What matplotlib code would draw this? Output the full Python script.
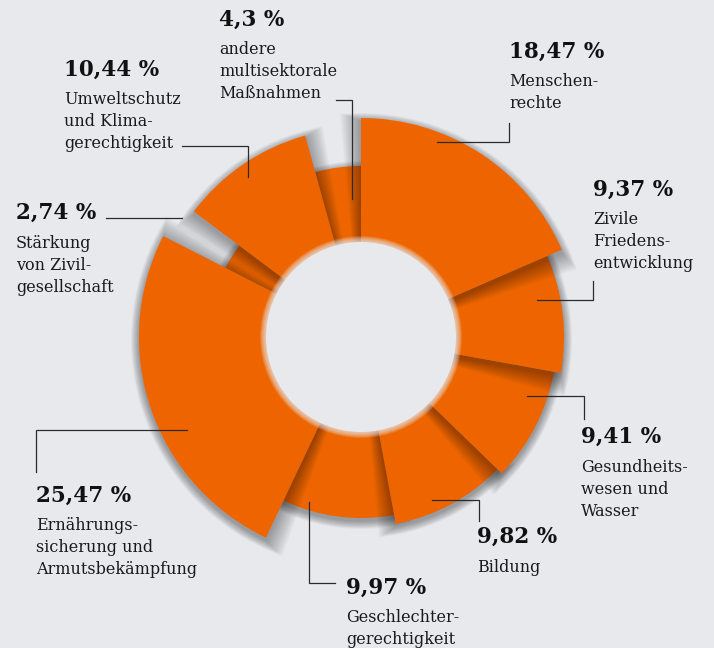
import matplotlib
matplotlib.use("Agg")
import matplotlib.pyplot as plt
from matplotlib.patches import Wedge, Circle

# data (clockwise from 12 o'clock)
shares = [18.47, 9.37, 9.41, 9.82, 9.97, 25.47, 2.74, 10.44, 4.3]
pct_labels = ["18,47 %", "9,37 %", "9,41 %", "9,82 %", "9,97 %",
              "25,47 %", "2,74 %", "10,44 %", "4,3 %"]
names = [
    ["Menschen-", "rechte"],
    ["Zivile", "Friedens-", "entwicklung"],
    ["Gesundheits-", "wesen und", "Wasser"],
    ["Bildung"],
    ["Geschlechter-", "gerechtigkeit"],
    ["Ernährungs-", "sicherung und", "Armutsbekämpfung"],
    ["Stärkung", "von Zivil-", "gesellschaft"],
    ["Umweltschutz", "und Klima-", "gerechtigkeit"],
    ["andere", "multisektorale", "Maßnahmen"],
]
# outer radius of each slice (pixels), purely decorative
radii = [219, 203, 196, 190, 181, 222, 152, 209, 171]

# label anchor (x, y of percent line) and leader line points
label_pos = [(509, 52), (593, 190), (581, 437), (477, 537), (346, 588),
             (36, 496), (16, 213), (64, 70), (219, 20)]
leaders = [
    [(437, 142), (509, 142), (509, 123)],
    [(537, 300), (593, 300), (593, 281)],
    [(527, 396), (584, 396), (584, 419)],
    [(432, 500), (479, 500), (479, 521)],
    [(309, 502), (309, 583), (335, 583)],
    [(187, 430), (36, 430), (36, 472)],
    [(106, 218), (182, 218)],
    [(182, 146), (248, 146), (248, 177)],
    [(336, 100), (352, 100), (352, 199)],
]

bg = "#e8e9ed"
orange = "#ee6500"
cx, cy = 361, 337
r_in = 95

fig = plt.figure(figsize=(7.14, 6.48), dpi=100, facecolor=bg)
ax = fig.add_axes([0, 0, 1, 1])
ax.set_facecolor(bg)
ax.set_xlim(0, 714)
ax.set_ylim(648, 0)
ax.set_aspect("equal")
ax.axis("off")

# slice angles (y axis inverted -> increasing angle runs clockwise)
starts = []
acc = 0
for s in shares:
    starts.append(acc)
    acc += s
angles = [(-90 + a * 3.6, -90 + (a + s) * 3.6) for a, s in zip(starts, shares)]

# draw from smallest radius to largest so bigger slices cast shadows on neighbours
order = sorted(range(len(shares)), key=lambda i: radii[i])
for z, i in enumerate(order):
    t1, t2 = angles[i]
    r = radii[i]
    for k in range(18, 0, -1):
        ax.add_patch(Wedge((cx, cy + 3), r + k * 0.45, t1 - k * 0.3, t2 + k * 0.3,
                           color="black", alpha=0.02, lw=0, zorder=2 + z * 2))
    ax.add_patch(Wedge((cx, cy), r, t1, t2, color=orange, lw=0, zorder=3 + z * 2))

# hole with a soft, blurred rim
for k in range(10, 0, -1):
    ax.add_patch(Circle((cx, cy), r_in + k * 0.6, color=bg, alpha=0.12,
                        lw=0, zorder=50))
ax.add_patch(Circle((cx, cy), r_in, color=bg, lw=0, zorder=51))

serif = "DejaVu Serif"
for i in range(len(shares)):
    x, y = label_pos[i]
    ax.text(x, y, pct_labels[i], fontsize=15.5, fontweight="bold",
            family=serif, color="#111111", va="center", ha="left", zorder=60)
    for j, line in enumerate(names[i]):
        ax.text(x, y + 30 + j * 22, line, fontsize=11.5, family=serif,
                color="#1a1a1a", va="center", ha="left", zorder=60)
    xs = [p[0] for p in leaders[i]]
    ys = [p[1] for p in leaders[i]]
    ax.plot(xs, ys, color="#2b2b2b", lw=0.9, zorder=60, solid_joinstyle="miter")

fig.savefig("out.png", dpi=100, facecolor=bg)
